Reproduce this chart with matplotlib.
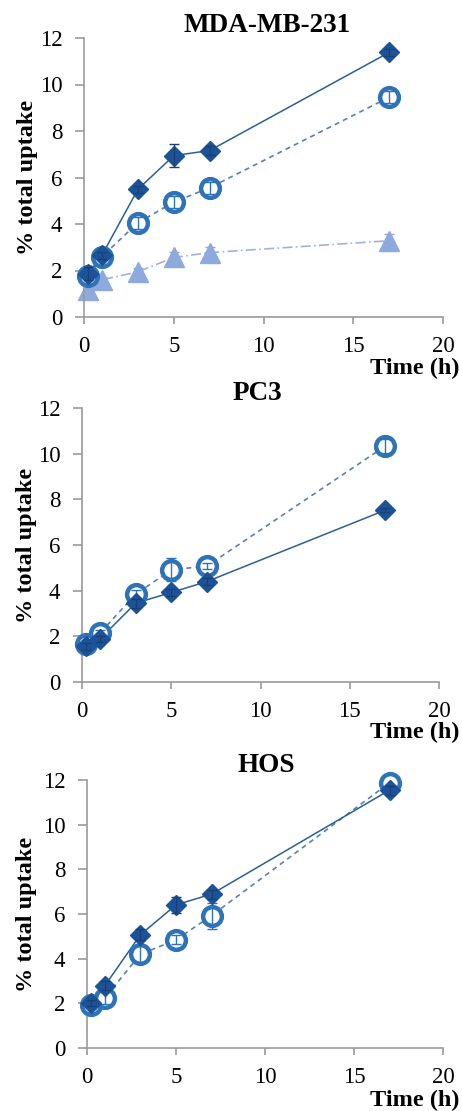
import numpy as np
import matplotlib
matplotlib.use("Agg")
import matplotlib.pyplot as plt

plt.rcParams['font.family'] = ['Liberation Serif', 'DejaVu Serif']

# sampling times (h)
time_h = [0.25, 1, 3, 5, 7, 17]

# MDA-MB-231
mda_diamond = [1.87, 2.66, 5.49, 6.94, 7.16, 11.38]
mda_diamond_err = [0.3, 0.15, 0.15, 0.5, 0.2, 0.15]
mda_circle = [1.75, 2.60, 4.05, 4.94, 5.56, 9.45]
mda_circle_err = [0.15, 0.15, 0.25, 0.25, 0.25, 0.25]
mda_triangle = [1.15, 1.60, 1.94, 2.56, 2.77, 3.28]
mda_triangle_err = [0.1, 0.1, 0.15, 0.25, 0.25, 0.3]

# PC3
pc3_diamond = [1.56, 1.88, 3.45, 3.92, 4.40, 7.53]
pc3_diamond_err = [0.15, 0.15, 0.2, 0.15, 0.15, 0.1]
pc3_circle = [1.67, 2.14, 3.84, 4.91, 5.08, 10.34]
pc3_circle_err = [0.15, 0.15, 0.2, 0.5, 0.15, 0.3]

# HOS
hos_diamond = [2.01, 2.79, 5.07, 6.41, 6.89, 11.55]
hos_diamond_err = [0.15, 0.2, 0.25, 0.37, 0.2, 0.2]
hos_circle = [1.91, 2.24, 4.20, 4.84, 5.93, 11.88]
hos_circle_err = [0.15, 0.25, 0.35, 0.2, 0.58, 0.2]

titles = ["MDA-MB-231", "PC3", "HOS"]

W, H = 462, 1111
fig = plt.figure(figsize=(W / 100, H / 100), dpi=100)

# axes boxes in pixels: left, right, top, bottom
boxes = [(84, 443, 38, 317), (82, 439, 408, 682), (87, 443, 780, 1048)]
title_pos = [(267, 26), (257, 393), (266, 765)]
xlabel_y = [368, 732, 1100]

diamond_c = '#1C5398'
diamond_line = '#2B5F96'
circle_c = '#2E72B8'
circle_line = '#5A80B0'
tri_c = '#8EA9DB'


def draw_diamond(ax, y, err):
    ax.plot(time_h, y, color=diamond_line, lw=1.1, zorder=2)
    ax.plot(time_h, y, ls='none', marker='D', ms=10, color=diamond_c,
            mec=diamond_c, zorder=4, clip_on=False)
    ax.errorbar(time_h, y, yerr=err, fmt='none', ecolor='#1A3F73',
                elinewidth=1, capsize=3.5, capthick=1, zorder=5)


def draw_circle(ax, y, err):
    ax.plot(time_h, y, color=circle_line, lw=1.2, ls=(0, (3, 2.5)), zorder=2)
    ax.plot(time_h, y, ls='none', marker='o', ms=13.5, mfc='white',
            mec=circle_c, mew=3.2, zorder=3, clip_on=False)
    ax.errorbar(time_h, y, yerr=err, fmt='none', ecolor=circle_c,
                elinewidth=1, capsize=3.5, capthick=1, zorder=3.5)


def draw_triangle(ax, y, err):
    ax.plot(time_h, y, color='#9FB3DA', lw=1.2, ls=(0, (6, 2, 1, 2)), zorder=1.5)
    ax.plot(time_h, y, ls='none', marker='^', ms=15, color=tri_c,
            mec=tri_c, zorder=2.5, clip_on=False)
    ax.errorbar(time_h, y, yerr=err, fmt='none', ecolor=tri_c,
                elinewidth=1, capsize=3.5, capthick=1, zorder=2.6)


axes = []
for (l, r, t, b) in boxes:
    ax = fig.add_axes([l / W, 1 - b / H, (r - l) / W, (b - t) / H])
    axes.append(ax)

draw_triangle(axes[0], mda_triangle, mda_triangle_err)
draw_circle(axes[0], mda_circle, mda_circle_err)
draw_diamond(axes[0], mda_diamond, mda_diamond_err)

draw_circle(axes[1], pc3_circle, pc3_circle_err)
draw_diamond(axes[1], pc3_diamond, pc3_diamond_err)

draw_circle(axes[2], hos_circle, hos_circle_err)
draw_diamond(axes[2], hos_diamond, hos_diamond_err)

for i, ax in enumerate(axes):
    ax.set_xlim(0, 20)
    ax.set_ylim(0, 12)
    ax.set_xticks([0, 5, 10, 15, 20])
    ax.set_yticks([0, 2, 4, 6, 8, 10, 12])
    for s in ['top', 'right']:
        ax.spines[s].set_visible(False)
    for s in ['left', 'bottom']:
        ax.spines[s].set_color('#9A9A9A')
        ax.spines[s].set_linewidth(1.2)
    ax.spines['bottom'].set_zorder(0.5)
    ax.tick_params(axis='x', direction='out', length=5, width=1.2,
                   color='#9A9A9A', labelsize=16.5, pad=9)
    ax.tick_params(axis='y', direction='out', length=6.5, width=1.2,
                   color='#9A9A9A', labelsize=16.5, pad=9)
    l, r, t, b = boxes[i]
    ax.text(-(l - 27) / (r - l), 0.5, "% total uptake", transform=ax.transAxes,
            rotation=90, ha='center', va='center', fontsize=17.5,
            fontweight='bold')
    tx, ty = title_pos[i]
    fig.text(tx / W, 1 - ty / H, titles[i], ha='center', va='center',
             fontsize=19.5, fontweight='bold')
    fig.text(460 / W, 1 - xlabel_y[i] / H, "Time (h)", ha='right',
             va='center', fontsize=17.5, fontweight='bold')

fig.savefig("out.png", dpi=100)
